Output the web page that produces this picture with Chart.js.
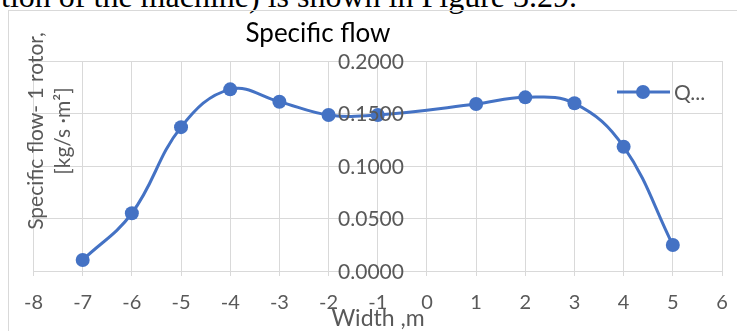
<!DOCTYPE html>
<html>
<head>
<meta charset="utf-8">
<script src="https://cdn.jsdelivr.net/npm/chart.js@4/dist/chart.umd.min.js"></script>
<style>
  html, body { margin: 0; padding: 0; background: #fff; width: 737px; height: 331px; overflow: hidden; }
  #wrap { position: relative; width: 737px; height: 331px; overflow: hidden; }
  #caption { position: absolute; right: 160px; top: -20px; font: 32px/32px "Liberation Serif", "Times New Roman", serif; color: #000; white-space: nowrap; }
  #frame { position: absolute; left: 8px; top: 10px; width: 800px; height: 400px; border-left: 1px solid #d9d9d9; border-top: 1px solid #d9d9d9; }
  canvas { position: absolute; left: 0; top: 0; }
</style>
</head>
<body>
<div id="wrap">
  <div id="caption">tion of the machine) is shown in Figure 3.29.</div>
  <div id="frame"></div>
  <canvas id="c" width="737" height="331"></canvas>
</div>
<script>
// Width positions across the machine (m) and the specific flow per rotor
const widths = [-7, -6, -5, -4, -3, -2, -1, 1, 2, 3, 4, 5];
const flow = [0.0105, 0.0550, 0.1370, 0.1730, 0.1612, 0.1486, 0.1486, 0.1590, 0.1654, 0.1597, 0.1184, 0.0248];

const chartTitle = 'Specific flow';
const seriesName = 'Q...';
const yTitleLines = ['Specific flow- 1 rotor,', '[kg/s \u00b7m\u00b2]'];
const xTitle = 'Width ,m';

const BLUE = '#4472c4';
const GRID = '#d9d9d9';
const TEXT = '#595959';
const FONT = 'Lato, "Open Sans", sans-serif';

const decor = {
  id: 'decor',
  afterDraw(chart) {
    const ctx = chart.ctx;
    const xs = chart.scales.x, ys = chart.scales.y;
    ctx.save();

    // value labels of the vertical axis, placed beside the x = 0 axis line
    ctx.fillStyle = TEXT;
    ctx.font = '21px ' + FONT;
    ctx.textAlign = 'right';
    ctx.textBaseline = 'middle';
    const x0 = xs.getPixelForValue(0);
    ys.ticks.forEach(t => {
      ctx.fillText(t.value.toFixed(4), x0 - 23, ys.getPixelForValue(t.value) + 1);
    });

    // chart title
    ctx.fillStyle = '#000';
    ctx.font = '26px ' + FONT;
    ctx.textAlign = 'center';
    ctx.textBaseline = 'alphabetic';
    ctx.fillText(chartTitle, 318, 42);

    // vertical axis title (two lines)
    ctx.fillStyle = TEXT;
    ctx.font = '21px ' + FONT;
    ctx.textBaseline = 'middle';
    ctx.save();
    ctx.translate(36, 131);
    ctx.rotate(-Math.PI / 2);
    ctx.fillText(yTitleLines[0], 0, 0);
    ctx.restore();
    ctx.save();
    ctx.translate(63, 131);
    ctx.rotate(-Math.PI / 2);
    ctx.fillText(yTitleLines[1], 0, 0);
    ctx.restore();

    // horizontal axis title
    ctx.font = '23px ' + FONT;
    ctx.fillText(xTitle, 378, 319);

    // legend entry
    const ly = 92;
    ctx.strokeStyle = BLUE;
    ctx.lineWidth = 3;
    ctx.beginPath();
    ctx.moveTo(617, ly);
    ctx.lineTo(670, ly);
    ctx.stroke();
    ctx.fillStyle = BLUE;
    ctx.beginPath();
    ctx.arc(643, ly, 7, 0, Math.PI * 2);
    ctx.fill();
    ctx.fillStyle = TEXT;
    ctx.font = '21px ' + FONT;
    ctx.textAlign = 'left';
    ctx.fillText(seriesName, 674, ly + 1);

    ctx.restore();
  }
};

new Chart(document.getElementById('c'), {
  type: 'line',
  data: {
    datasets: [{
      label: seriesName,
      data: widths.map((w, i) => ({ x: w, y: flow[i] })),
      borderColor: BLUE,
      backgroundColor: BLUE,
      borderWidth: 3,
      pointRadius: 7,
      pointHoverRadius: 7,
      pointBackgroundColor: BLUE,
      pointBorderColor: BLUE,
      pointBorderWidth: 0,
      tension: 0.4,
      fill: false
    }]
  },
  options: {
    responsive: false,
    animation: false,
    events: [],
    layout: { padding: { left: 33.5, right: 15, top: 61, bottom: 0 } },
    plugins: {
      legend: { display: false },
      title: { display: false },
      tooltip: { enabled: false }
    },
    scales: {
      x: {
        type: 'linear',
        position: 'bottom',
        min: -8,
        max: 6,
        ticks: { stepSize: 1, color: TEXT, font: { family: FONT, size: 20, lineHeight: 1.75 }, padding: 9 },
        grid: { color: GRID, lineWidth: 1, tickLength: 5, tickColor: GRID },
        border: { color: GRID },
        afterFit(s) { s.height = 60; }
      },
      y: {
        type: 'linear',
        position: { x: 0 },
        min: 0,
        max: 0.2,
        ticks: { stepSize: 0.05, display: false },
        grid: { color: GRID, lineWidth: 1, drawTicks: false },
        border: { color: GRID },
        afterFit(s) { s.width = 0; }
      }
    }
  },
  plugins: [decor]
});
</script>
</body>
</html>
